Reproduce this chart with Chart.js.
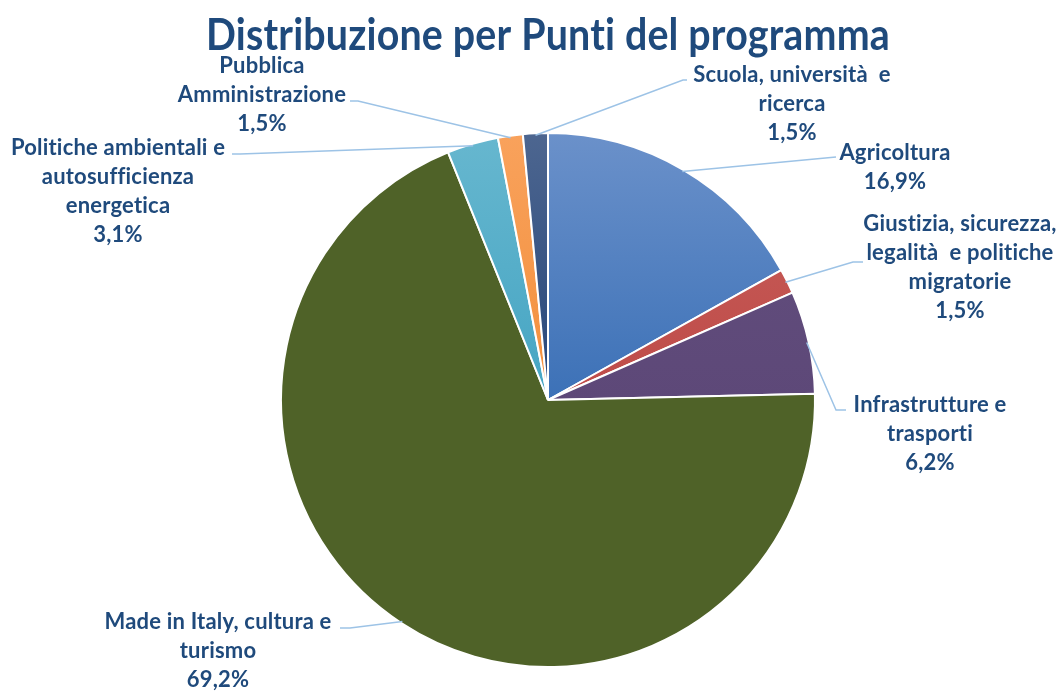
<!DOCTYPE html>
<html>
<head>
<meta charset="utf-8">
<script src="https://cdn.jsdelivr.net/npm/chart.js@4.4.1/dist/chart.umd.min.js"></script>
<style>
html, body { margin: 0; padding: 0; background: #fff; }
#wrap { width: 1060px; height: 691px; position: relative; }
</style>
</head>
<body>
<div id="wrap"><canvas id="pieChart"></canvas></div>
<script>
// chart data
const titleText = 'Distribuzione per Punti del programma';
const categories = [
    ['Agricoltura'],
    ['Giustizia, sicurezza,', 'legalità  e politiche', 'migratorie'],
    ['Infrastrutture e', 'trasporti'],
    ['Made in Italy, cultura e', 'turismo'],
    ['Politiche ambientali e', 'autosufficienza', 'energetica'],
    ['Pubblica', 'Amministrazione'],
    ['Scuola, università  e', 'ricerca']
];
const shares = [16.9, 1.5, 6.2, 69.2, 3.1, 1.5, 1.5];

// slice colours: [top, bottom] of a vertical gradient
const sliceColors = [
    ['#6b91ca', '#3c71b7'],
    ['#c9605c', '#be4b48'],
    ['#64507f', '#5d4878'],
    ['#4f6228', '#4f6228'],
    ['#67b7cf', '#45a5c3'],
    ['#f9a25c', '#f28f3c'],
    ['#4d6690', '#264679']
];

// where each label sits (first line centre) and where its leader line bends
const labelPos = [
    { x: 895, y: 153, elbow: [836, 157], tip: [836, 157] },
    { x: 960, y: 224, elbow: [853, 262], tip: [863, 262] },
    { x: 930, y: 405, elbow: [836, 410], tip: [846, 410] },
    { x: 218, y: 622, elbow: [350, 628], tip: [340, 628] },
    { x: 118, y: 148, elbow: [240, 154], tip: [232, 154] },
    { x: 262, y: 66,  elbow: [358, 101], tip: [350, 101] },
    { x: 792, y: 75,  elbow: [683, 80],  tip: [687, 80] }
];

const textColor = '#1f4a7c';
const leaderColor = '#9dc3e6';
const fontFamily = 'Lato, "Open Sans", sans-serif';

function setFont(ctx, size) {
    ctx.font = 'bold ' + size + 'px ' + fontFamily;
    // a tiny spacing keeps the browser from using the "ti" ligature
    if ('letterSpacing' in ctx) ctx.letterSpacing = '0.2px';
}

function textWidth(text, size) {
    const c = document.createElement('canvas').getContext('2d');
    setFont(c, size);
    return c.measureText(text).width;
}

function pct(v) {
    return v.toFixed(1).replace('.', ',') + '%';
}

// title drawn a little condensed, like the original Calibri heading
const chartTitle = {
    id: 'chartTitle',
    afterDraw(chart) {
        const o = chart.options.plugins.chartTitle;
        const ctx = chart.ctx;
        const w = textWidth(titleText, o.size);
        const sx = o.width / w;
        ctx.save();
        ctx.translate(o.x, o.baseline);
        ctx.scale(sx, 1);
        ctx.fillStyle = textColor;
        setFont(ctx, o.size);
        ctx.textAlign = 'center';
        ctx.textBaseline = 'alphabetic';
        ctx.fillText(titleText, 0, 0);
        ctx.restore();
    }
};

const sliceLabels = {
    id: 'sliceLabels',
    afterDatasetsDraw(chart) {
        const ctx = chart.ctx;
        const arcs = chart.getDatasetMeta(0).data;
        const size = chart.options.plugins.sliceLabels.size;
        const lineH = chart.options.plugins.sliceLabels.lineHeight;
        ctx.save();
        arcs.forEach((arc, i) => {
            const p = arc.getProps(['x', 'y', 'startAngle', 'endAngle', 'outerRadius'], true);
            const mid = (p.startAngle + p.endAngle) / 2;
            const sx = p.x + Math.cos(mid) * (p.outerRadius - 2);
            const sy = p.y + Math.sin(mid) * (p.outerRadius - 2);
            const lp = labelPos[i];

            //leader line
            ctx.strokeStyle = leaderColor;
            ctx.lineWidth = 1.5;
            ctx.beginPath();
            ctx.moveTo(sx, sy);
            ctx.lineTo(lp.elbow[0], lp.elbow[1]);
            ctx.lineTo(lp.tip[0], lp.tip[1]);
            ctx.stroke();

            //text
            const lines = categories[i].concat([pct(shares[i])]);
            ctx.fillStyle = textColor;
            setFont(ctx, size);
            ctx.textAlign = 'center';
            ctx.textBaseline = 'middle';
            lines.forEach((t, k) => ctx.fillText(t, lp.x, lp.y + k * lineH));
        });
        ctx.restore();
    }
};

function sliceFill(c) {
    const cols = sliceColors[c.dataIndex] || sliceColors[0];
    const area = c.chart.chartArea;
    if (!area) return cols[0];
    const g = c.chart.ctx.createLinearGradient(0, area.top, 0, area.bottom);
    g.addColorStop(0, cols[0]);
    g.addColorStop(0.5, cols[1]);
    g.addColorStop(1, cols[1]);
    return g;
}

function build() {
    const labelSize = 18.4 * 215 / textWidth('Politiche ambientali e', 18.4);

    const config = {
        type: 'pie',
        data: {
            labels: categories,
            datasets: [{
                data: shares,
                backgroundColor: sliceFill,
                borderColor: '#ffffff',
                borderWidth: 2
            }]
        },
        options: {
            responsive: true,
            maintainAspectRatio: false,
            animation: false,
            layout: {
                padding: { left: 36, right: 0, top: 132, bottom: 23 }
            },
            plugins: {
                legend: { display: false },
                tooltip: { enabled: false },
                title: { display: false },
                chartTitle: { size: 44, width: 684, x: 548, baseline: 50 },
                sliceLabels: { size: labelSize, lineHeight: 29 }
            }
        },
        plugins: [sliceLabels, chartTitle]
    };
    new Chart(document.getElementById('pieChart'), config);
}

if (document.fonts && document.fonts.load) {
    document.fonts.load('bold 20px Lato').then(build, build);
} else {
    build();
}
</script>
</body>
</html>
